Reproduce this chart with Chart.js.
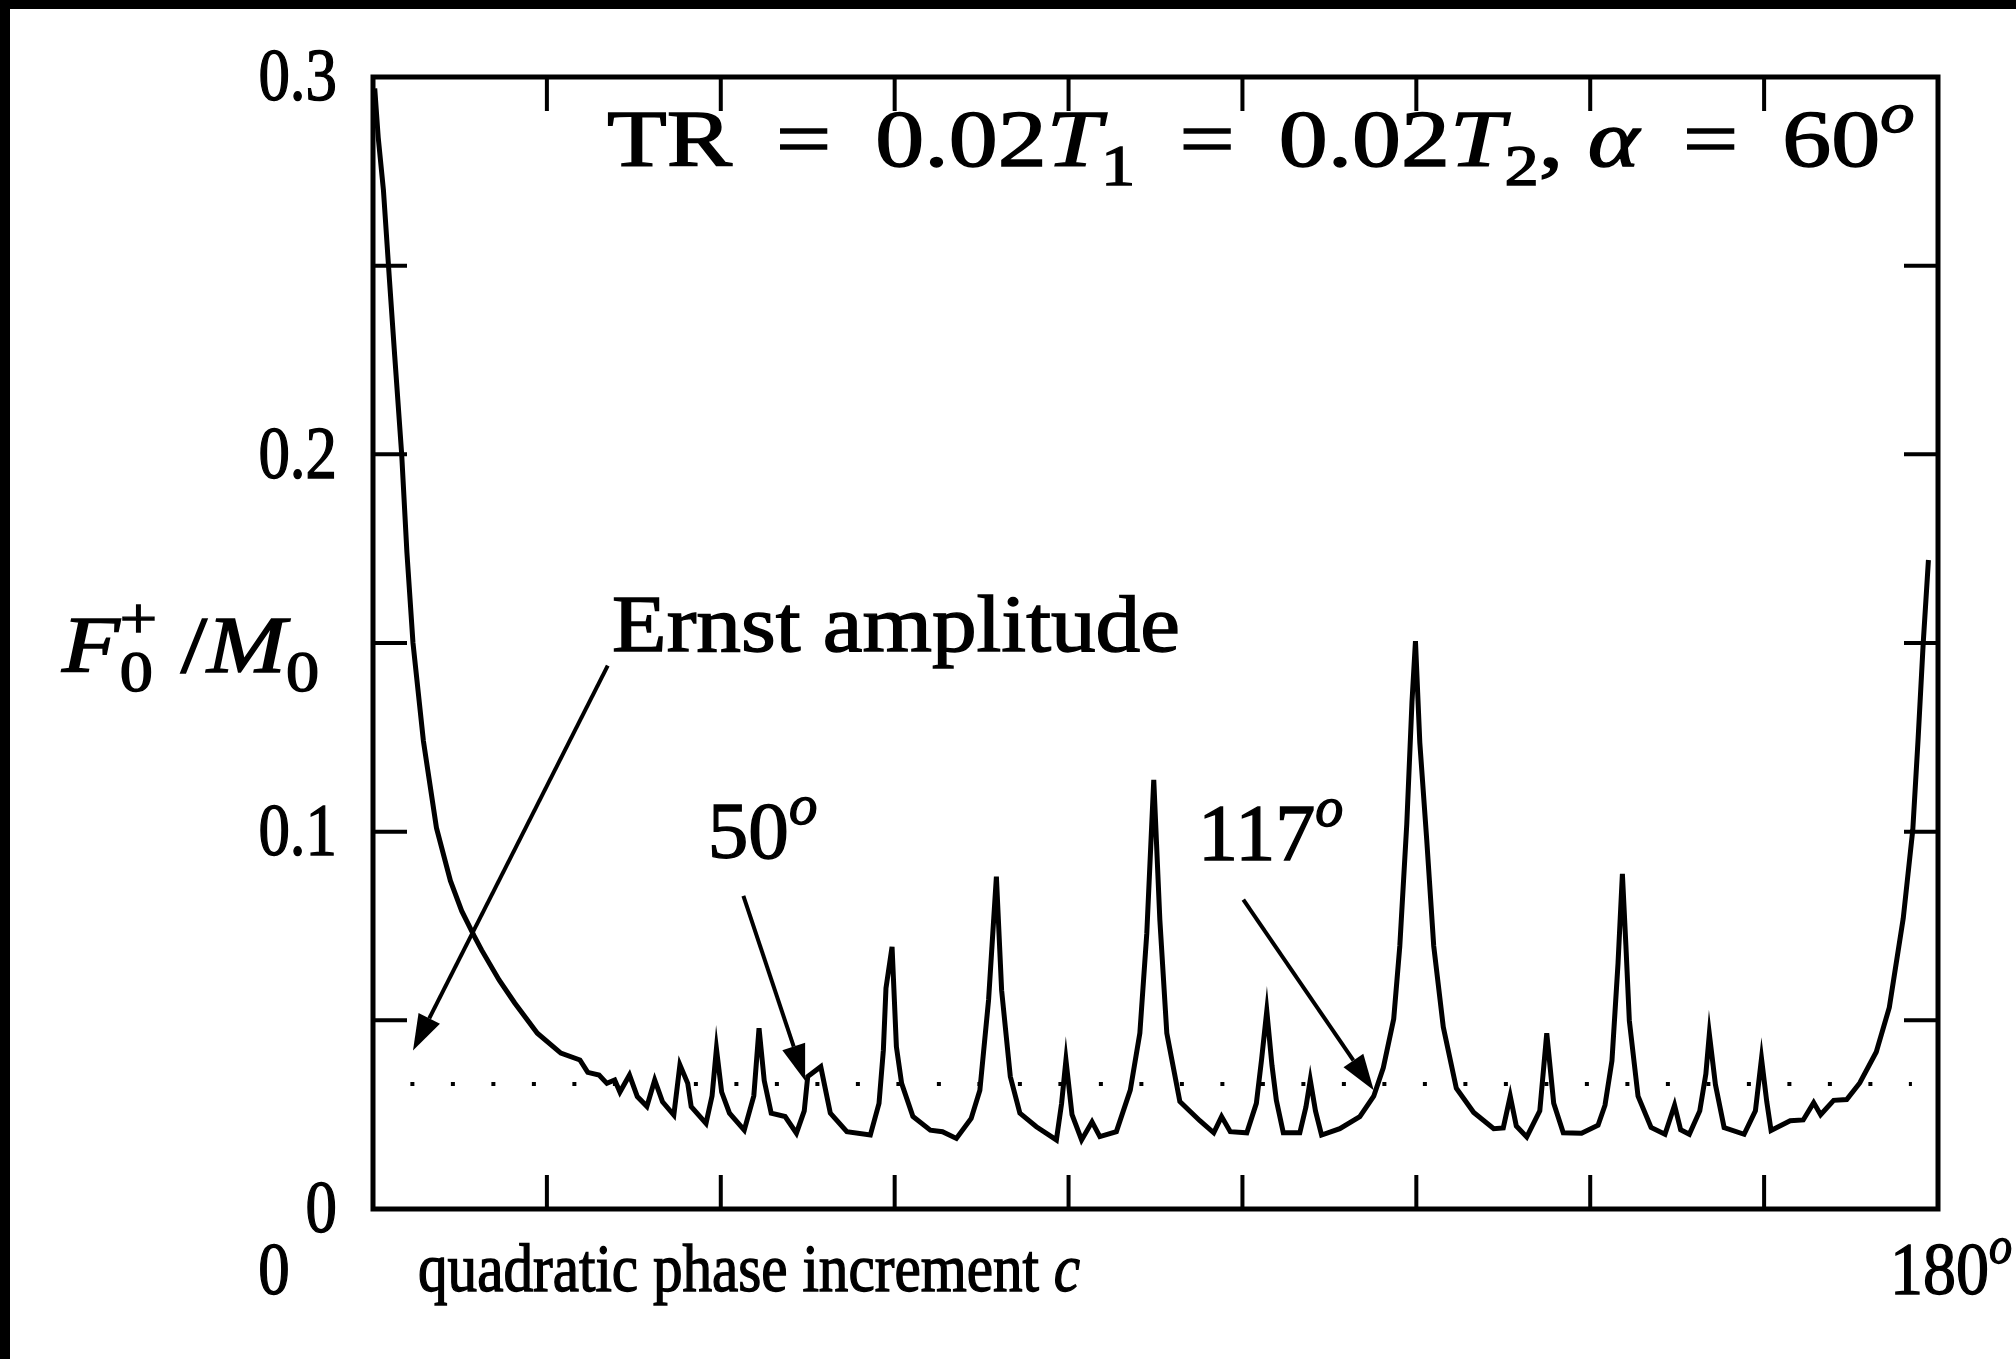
<!DOCTYPE html>
<html>
<head>
<meta charset="utf-8">
<script src="https://cdn.jsdelivr.net/npm/chart.js@4.4.1/dist/chart.umd.min.js"></script>
<style>
  html, body { margin: 0; padding: 0; background: #fff; }
  #wrap { position: absolute; left: 0; top: 0; width: 2016px; height: 1359px; }
</style>
</head>
<body>
<div id="wrap"><canvas id="chart"></canvas></div>
<script>
// Curve: quadratic phase increment (deg) vs F0+/M0
const phaseDeg = [
  0.2, 0.6, 1.2, 1.9, 2.5, 3.3, 3.9, 4.6, 5.8, 7.3, 8.9, 10.2, 11.6, 12.5, 14.5, 16.3, 18.9, 21.6,
  23.8, 24.7, 26.0, 26.9, 27.8, 28.4, 29.5, 30.4, 31.5, 32.4, 33.3, 34.6, 35.3, 36.2, 36.6, 38.3,
  39.0, 39.5, 40.1, 41.0, 42.7, 43.8, 44.4, 45.0, 45.8, 47.4, 48.7, 49.6, 50.0, 51.5, 52.6, 54.5,
  57.2, 58.2, 58.7, 59.0, 59.7, 60.2, 60.8, 62.1, 64.1, 65.5, 67.1, 68.8, 69.8, 70.8, 71.7, 72.3,
  73.3, 74.4, 76.3, 78.6, 79.2, 79.7, 80.4, 81.5, 82.7, 83.6, 85.5, 87.1, 88.2, 89.0, 89.8, 90.5,
  91.3, 92.8, 95.1, 96.7, 97.6, 98.6, 100.5, 101.6, 102.2, 102.8, 103.4, 103.9, 104.7, 106.6, 107.3,
  107.8, 108.4, 109.1, 111.2, 113.5, 115.1, 116.2, 117.4, 118.1, 118.9, 119.5, 119.9, 120.4, 121.2,
  122.0, 123.1, 124.6, 126.6, 128.9, 130.0, 130.8, 131.5, 132.7, 134.2, 135.0, 135.8, 136.9, 139.0,
  140.9, 141.7, 142.5, 143.2, 143.7, 144.1, 144.5, 145.5, 147.0, 148.6, 149.7, 150.4, 151.4, 152.6,
  153.3, 153.7, 154.4, 155.4, 157.7, 159.0, 159.7, 160.3, 160.8, 163.0, 164.5, 165.7, 166.5, 168.0,
  169.5, 171.0, 172.9, 174.4, 176.0, 177.1, 177.7, 178.3, 178.9
];
const amplitude = [
  0.297, 0.284, 0.270, 0.246, 0.226, 0.200, 0.174, 0.150, 0.124, 0.101, 0.087, 0.079, 0.0725, 0.0686, 0.0607, 0.0546, 0.0466, 0.0413,
  0.0395, 0.0362, 0.0355, 0.0333, 0.0342, 0.0310, 0.0355, 0.0298, 0.0272, 0.0342, 0.0284, 0.0249, 0.0382, 0.0333, 0.0271, 0.0227,
  0.030, 0.0425, 0.031, 0.0254, 0.0209, 0.030, 0.0479, 0.034, 0.0254, 0.0245, 0.0201, 0.026, 0.0351, 0.0377, 0.0254, 0.0205,
  0.0196, 0.028, 0.0421, 0.0585, 0.0695, 0.043, 0.0333, 0.0245, 0.0209, 0.0205, 0.0187, 0.024, 0.0315, 0.0554, 0.0881, 0.058,
  0.0351, 0.0254, 0.0218, 0.0183, 0.028, 0.0395, 0.025, 0.0183, 0.0231, 0.0192, 0.0205, 0.0315, 0.0466, 0.0731, 0.1137, 0.0766,
  0.0466, 0.0285, 0.0234, 0.0202, 0.0245, 0.0205, 0.0202, 0.028, 0.0396, 0.0525, 0.038, 0.0288, 0.0202, 0.0202, 0.027,
  0.0342, 0.026, 0.0196, 0.0213, 0.0245, 0.0299, 0.0374, 0.0504, 0.0697, 0.102, 0.1344, 0.1505, 0.1236, 0.0977,
  0.0697, 0.0482, 0.032, 0.0256, 0.0213, 0.0215, 0.0299, 0.022, 0.0191, 0.026, 0.0466, 0.028, 0.0202, 0.0201,
  0.0222, 0.0275, 0.0393, 0.0652, 0.0888, 0.070, 0.0499, 0.0299, 0.0216, 0.0198, 0.0275, 0.021, 0.0198, 0.026,
  0.0358, 0.0464, 0.033, 0.0216, 0.0198, 0.026, 0.0399, 0.0285, 0.0208, 0.0234, 0.0236, 0.0282, 0.025, 0.0288,
  0.029, 0.0334, 0.0416, 0.0534, 0.077, 0.1005, 0.1241, 0.150, 0.172
];

// Ernst amplitude level (dotted line) and its extent in degrees
const ernstLevel = 0.0331;
const ernstFrom = 4.3;
const ernstTo = 177.0;

// Axes
const xMin = 0, xMax = 180, xStep = 20;
const yMin = 0, yMax = 0.3, yStep = 0.05;
const yLabelValues = [0, 0.1, 0.2, 0.3];
const yLabelText = ['0', '0.1', '0.2', '0.3'];

// Arrows: [fromDeg, fromValue, toDeg, toValue]
const arrows = [
  [27.0, 0.144, 4.6, 0.042],
  [42.6, 0.083, 49.7, 0.034],
  [100.1, 0.082, 115.1, 0.0315]
];

// In-plot labels: anchor (deg, value) at left/baseline, right edge in deg
const EQ = ' \u2009=\u2009 ';
const notes = [
  { x: 26.9, y: 0.2764, right: 177.3, size: 80, parts: [
    { t: 'TR' + EQ + '0.02' }, { t: 'T', it: 1 }, { t: '1', sub: 1 }, { t: EQ + '0.02' }, { t: 'T', it: 1 },
    { t: '2', sub: 1 }, { t: ', ' }, { t: 'α', it: 1 }, { t: EQ + '60' }, { t: 'o', it: 1, sup: 1 }] },
  { x: 27.5, y: 0.148, right: 92.8, size: 80, parts: [{ t: 'Ernst amplitude' }] },
  { x: 38.5, y: 0.093, right: 51.1, size: 80, parts: [{ t: '50' }, { t: 'o', it: 1, sup: 1 }] },
  { x: 94.9, y: 0.0925, right: 111.6, size: 80, parts: [{ t: '117' }, { t: 'o', it: 1, sup: 1 }] }
];

const FONT = '"Liberation Serif", "Times New Roman", serif';
const FS = 80;

function drawRich(ctx, x, y, parts, opt) {
  opt = opt || {};
  const size = opt.size || FS;
  ctx.save();
  let natural = 0;
  const items = parts.map(p => {
    const small = p.sub || p.sup;
    const font = (p.it ? 'italic ' : '') + (small ? size * 0.7 : size) + 'px ' + FONT;
    ctx.font = font;
    const w = ctx.measureText(p.t).width;
    const item = { p, font, at: natural };
    if (!p.stack) natural += w;
    return item;
  });
  const sx = opt.width ? opt.width / natural : (opt.sx || 1);
  let x0 = x;
  if (opt.align === 'right') x0 = x - natural * sx;
  if (opt.align === 'center') x0 = x - natural * sx / 2;
  ctx.translate(x0, y);
  ctx.scale(sx, 1);
  ctx.fillStyle = '#000';
  ctx.strokeStyle = '#000';
  ctx.lineWidth = 1.4;
  ctx.textBaseline = opt.baseline || 'alphabetic';
  ctx.textAlign = 'left';
  for (const it of items) {
    ctx.font = it.font;
    const dy = it.p.sub ? size * 0.24 : it.p.sup ? -size * 0.42 : 0;
    ctx.fillText(it.p.t, it.at, dy);
    ctx.strokeText(it.p.t, it.at, dy);
  }
  ctx.restore();
}

const paperPlugin = {
  id: 'paper',
  beforeDraw(chart) {
    const ctx = chart.ctx;
    ctx.save();
    ctx.fillStyle = '#fff';
    ctx.fillRect(0, 0, chart.width, chart.height);
    ctx.fillStyle = '#000';
    ctx.fillRect(0, 0, chart.width, 9);
    ctx.fillRect(0, 0, 10, chart.height);
    ctx.restore();
  }
};

const framePlugin = {
  id: 'frame',
  afterDatasetsDraw(chart) {
    const ctx = chart.ctx;
    const xs = chart.scales.x, ys = chart.scales.y;
    const a = chart.chartArea;
    ctx.save();
    ctx.strokeStyle = '#000';
    ctx.lineWidth = 5;
    ctx.strokeRect(a.left, a.top, a.right - a.left, a.bottom - a.top);

    // inward ticks on all four sides
    ctx.lineWidth = 4;
    ctx.beginPath();
    xs.ticks.forEach(t => {
      if (t.value <= xMin || t.value >= xMax) return;
      const px = xs.getPixelForValue(t.value);
      ctx.moveTo(px, a.bottom); ctx.lineTo(px, a.bottom - 34);
      ctx.moveTo(px, a.top); ctx.lineTo(px, a.top + 34);
    });
    ys.ticks.forEach(t => {
      if (t.value <= yMin + 1e-9 || t.value >= yMax - 1e-9) return;
      const py = ys.getPixelForValue(t.value);
      ctx.moveTo(a.left, py); ctx.lineTo(a.left + 34, py);
      ctx.moveTo(a.right, py); ctx.lineTo(a.right - 34, py);
    });
    ctx.stroke();

    // y tick labels
    yLabelValues.forEach((v, i) => {
      drawRich(ctx, a.left - 36, ys.getPixelForValue(v) + 4, [{ t: yLabelText[i] }],
        { sx: 0.85, size: 74, align: 'right', baseline: 'middle' });
    });

    // arrows
    ctx.fillStyle = '#000';
    ctx.lineWidth = 4;
    arrows.forEach(([x0, y0, x1, y1]) => {
      const p0x = xs.getPixelForValue(x0), p0y = ys.getPixelForValue(y0);
      const p1x = xs.getPixelForValue(x1), p1y = ys.getPixelForValue(y1);
      const ang = Math.atan2(p1y - p0y, p1x - p0x);
      const len = 36, half = 12;
      const bx = p1x - len * Math.cos(ang), by = p1y - len * Math.sin(ang);
      ctx.beginPath();
      ctx.moveTo(p0x, p0y); ctx.lineTo(bx, by);
      ctx.stroke();
      ctx.beginPath();
      ctx.moveTo(p1x, p1y);
      ctx.lineTo(bx + half * Math.sin(ang), by - half * Math.cos(ang));
      ctx.lineTo(bx - half * Math.sin(ang), by + half * Math.cos(ang));
      ctx.closePath();
      ctx.fill();
    });

    // annotations inside the plot
    notes.forEach(n => {
      const px = xs.getPixelForValue(n.x), py = ys.getPixelForValue(n.y);
      const w = xs.getPixelForValue(n.right) - px;
      drawRich(ctx, px, py, n.parts, { width: w, size: n.size });
    });

    // y axis label F0+/M0
    drawRich(ctx, 62, 672, [
      { t: 'F', it: 1 }, { t: '0', sub: 1, stack: 1 }, { t: '+', sup: 1 },
      { t: ' /' }, { t: 'M', it: 1 }, { t: '0', sub: 1 }], { width: 257 });

    // x axis labels
    const base = a.bottom + 85;
    const x0 = xs.getPixelForValue(xMin);
    const x1 = xs.getPixelForValue(xMax);
    drawRich(ctx, x0 - 99, base, [{ t: '0' }], { sx: 0.85, size: 74, align: 'center' });
    drawRich(ctx, x0 + 45, base - 3, [{ t: 'quadratic phase increment ' }, { t: 'c', it: 1 }], { width: 662, size: 68 });
    drawRich(ctx, x1 - 48, base, [{ t: '180' }, { t: 'o', it: 1, sup: 1 }], { width: 122, size: 74 });
    ctx.restore();
  }
};

const curve = phaseDeg.map((d, i) => ({ x: d, y: amplitude[i] }));

new Chart(document.getElementById('chart'), {
  type: 'line',
  data: {
    datasets: [
      {
        data: curve,
        borderColor: '#000',
        borderWidth: 5,
        pointRadius: 0,
        tension: 0,
        fill: false
      },
      {
        data: [{ x: ernstFrom, y: ernstLevel }, { x: ernstTo, y: ernstLevel }],
        borderColor: '#000',
        borderWidth: 4,
        borderDash: [4, 36.5],
        pointRadius: 0,
        fill: false
      }
    ]
  },
  options: {
    responsive: true,
    maintainAspectRatio: false,
    devicePixelRatio: 1,
    animation: false,
    layout: { padding: { left: 0, top: 77, right: 78, bottom: 0 } },
    plugins: { legend: { display: false }, tooltip: { enabled: false } },
    scales: {
      x: {
        type: 'linear',
        min: xMin,
        max: xMax,
        ticks: { display: false, stepSize: xStep, autoSkip: false },
        grid: { display: false, drawTicks: false },
        border: { display: false },
        afterFit(scale) { scale.height = 150; }
      },
      y: {
        min: yMin,
        max: yMax,
        ticks: { display: false, stepSize: yStep, autoSkip: false },
        grid: { display: false, drawTicks: false },
        border: { display: false },
        afterFit(scale) { scale.width = 373; }
      }
    }
  },
  plugins: [paperPlugin, framePlugin]
});
</script>
</body>
</html>
